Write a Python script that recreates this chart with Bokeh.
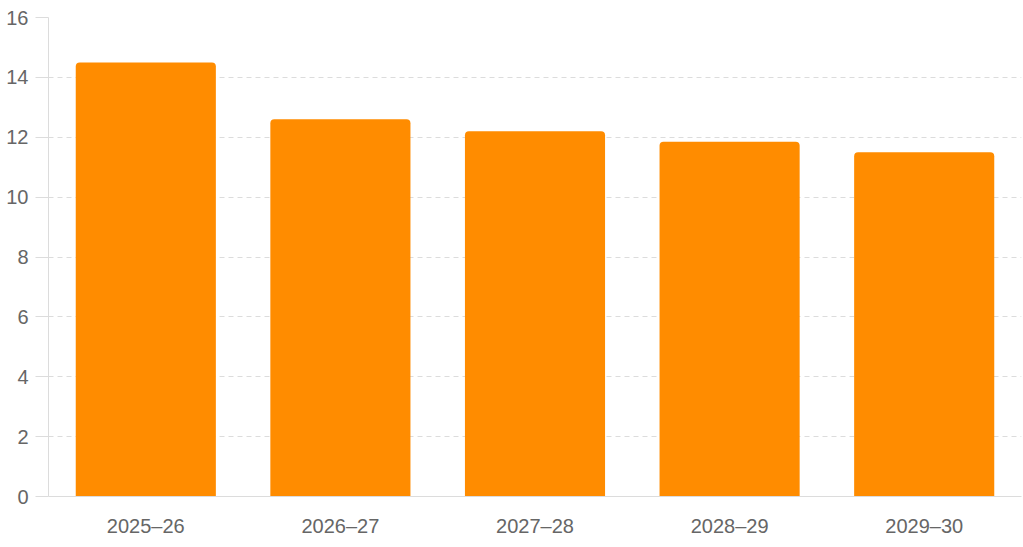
from bokeh.plotting import figure
from bokeh.models import ColumnDataSource, FactorRange, Range1d, FixedTicker
from bokeh.embed import file_html
from bokeh.resources import INLINE

categories = ["2025–26", "2026–27", "2027–28", "2028–29", "2029–30"]
values = [14.5, 12.6, 12.2, 11.85, 11.5]
y_ticks = [0, 2, 4, 6, 8, 10, 12, 14, 16]

source = ColumnDataSource(data=dict(cat=categories, val=values))

p = figure(
    x_range=FactorRange(*categories, range_padding=0),
    y_range=Range1d(0, 16),
    width=1023, height=547,
    output_backend="svg", toolbar_location=None,
    min_border_left=48, min_border_right=2, min_border_top=17, min_border_bottom=51,
)
p.outline_line_color = None
p.background_fill_color = "white"
p.border_fill_color = "white"

p.vbar(x="cat", top="val", width=0.72, source=source,
       fill_color="#FF8C00", line_color=None,
       border_radius=(4, 4, 0, 0))

font = "Liberation Sans"
grey_line = "#dcdcdc"

p.yaxis.ticker = FixedTicker(ticks=y_ticks)
p.yaxis.axis_line_color = grey_line
p.yaxis.major_tick_line_color = grey_line
p.yaxis.major_tick_out = 13
p.yaxis.major_tick_in = 0
p.yaxis.minor_tick_line_color = None
p.yaxis.major_label_standoff = 7
p.yaxis.major_label_text_font = font
p.yaxis.major_label_text_font_size = "20px"
p.yaxis.major_label_text_color = "#666666"

p.xaxis.axis_line_color = grey_line
p.xaxis.major_tick_line_color = None
p.xaxis.major_tick_out = 0
p.xaxis.major_tick_in = 0
p.xaxis.minor_tick_line_color = None
p.xaxis.major_label_standoff = 18
p.xaxis.major_label_text_font = font
p.xaxis.major_label_text_font_size = "20px"
p.xaxis.major_label_text_color = "#666666"

p.xgrid.grid_line_color = None
p.ygrid.grid_line_color = grey_line
p.ygrid.grid_line_dash = "5 4"
p.ygrid.grid_line_width = 1

open("out.html", "w").write(file_html(p, INLINE))
